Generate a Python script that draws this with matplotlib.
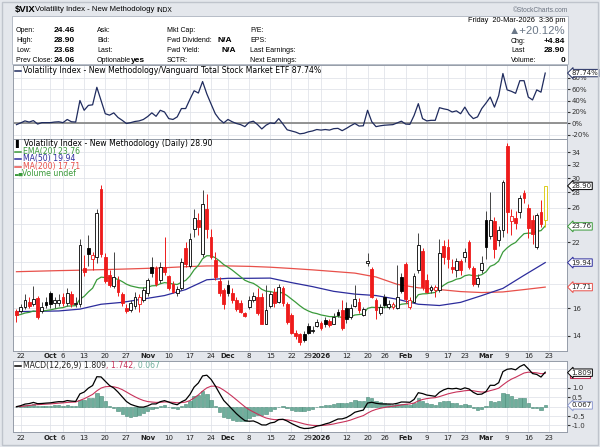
import matplotlib
matplotlib.use("Agg")
import matplotlib.pyplot as plt
import matplotlib.transforms as mtrans
from matplotlib.lines import Line2D
from matplotlib.patches import Rectangle
import numpy as np
import pandas as pd

# ---------------------------------------------------------------------------
# Data
# ---------------------------------------------------------------------------
holidays = ["2025-11-27", "2025-12-25", "2026-01-01", "2026-01-19", "2026-02-16"]
dates = pd.bdate_range("2025-09-19", "2026-03-20")
dates = dates[~dates.isin(pd.to_datetime(holidays))]

opens = [15.75, 15.80, 16.10, 16.50, 16.30, 16.80, 15.80, 16.50, 17.20, 16.40,
         16.40, 16.90, 16.40, 17.10, 16.30, 16.30, 19.40, 21.40, 20.30, 20.50,
         28.40, 20.50, 18.80, 17.80, 18.30, 17.10, 16.00, 15.85, 16.20, 16.30,
         16.60, 17.20, 19.50, 19.40, 18.30, 19.55, 18.70, 18.00, 17.20, 17.60,
         21.40, 19.60, 23.50, 24.50, 20.80, 25.90, 22.60, 20.20, 18.20, 17.45,
         17.90, 17.25, 16.60, 16.40, 15.60, 16.10, 16.60, 16.90, 16.90, 14.85,
         16.20, 17.30, 16.50, 17.60, 16.30, 15.50, 14.15, 14.10, 14.10, 14.65,
         14.30, 14.70, 14.90, 15.10, 15.00, 14.85, 15.72, 15.85, 16.00, 15.30,
         16.20, 16.50, 15.50, 19.90, 19.30, 16.60, 15.65, 16.90, 16.05, 16.10,
         16.00, 18.60, 19.80, 16.10, 16.50, 19.25, 21.10, 18.30, 17.45, 17.50,
         17.50, 21.60, 21.50, 19.55, 19.25, 20.10, 20.50, 22.00, 19.40, 18.00,
         19.20, 24.50, 22.70, 24.40, 22.20, 23.40, 35.10, 24.40, 24.80, 25.50,
         27.90, 26.00, 24.50, 21.50, 25.50, 24.46]
highs = [15.90, 16.30, 17.10, 16.90, 17.80, 17.00, 16.50, 16.90, 17.40, 16.90,
         17.10, 17.20, 17.60, 17.40, 16.90, 22.40, 20.70, 22.80, 21.00, 25.80,
         29.00, 20.90, 19.20, 21.00, 18.70, 17.30, 16.30, 16.60, 17.30, 17.10,
         17.70, 18.50, 20.50, 19.60, 20.00, 22.60, 18.80, 18.20, 17.80, 20.40,
         22.00, 23.00, 25.80, 25.30, 28.30, 27.80, 23.50, 21.00, 18.60, 17.60,
         18.30, 17.60, 16.90, 16.60, 15.70, 17.00, 17.30, 17.60, 17.20, 17.90,
         17.40, 17.60, 18.00, 17.80, 16.50, 15.60, 14.40, 14.20, 14.30, 14.90,
         14.70, 15.20, 15.00, 15.30, 15.20, 15.60, 15.90, 16.60, 16.50, 16.30,
         17.90, 16.80, 16.10, 20.85, 19.50, 16.80, 16.30, 17.10, 16.60, 16.50,
         19.70, 19.00, 20.00, 16.90, 19.00, 23.00, 21.40, 18.90, 17.90, 17.90,
         22.40, 22.20, 22.30, 20.30, 20.40, 20.30, 21.40, 22.20, 19.60, 18.90,
         20.60, 25.60, 28.00, 24.90, 23.80, 29.80, 35.50, 25.80, 25.60, 27.60,
         28.30, 26.50, 25.10, 25.30, 27.00, 28.90]
lows = [14.95, 15.60, 15.90, 16.00, 16.20, 15.20, 15.60, 16.00, 16.00, 16.00,
        16.20, 16.20, 16.20, 16.10, 16.10, 16.10, 18.70, 19.60, 19.20, 19.90,
        20.50, 18.10, 17.70, 17.60, 17.00, 16.20, 15.60, 15.70, 15.90, 15.70,
        16.50, 17.00, 18.60, 17.80, 18.10, 18.80, 17.50, 17.20, 17.00, 17.50,
        19.50, 19.40, 22.60, 22.80, 20.50, 22.50, 20.30, 18.30, 17.00, 15.90,
        17.00, 16.40, 15.80, 15.60, 15.30, 15.90, 16.50, 15.50, 14.80, 14.80,
        16.00, 16.10, 16.40, 16.20, 14.80, 14.10, 13.80, 13.40, 13.60, 14.10,
        14.20, 14.60, 14.40, 14.60, 14.60, 14.80, 15.30, 14.40, 14.90, 15.20,
        16.10, 15.60, 15.40, 19.60, 16.80, 15.20, 15.50, 16.00, 15.90, 15.90,
        15.90, 17.20, 16.40, 15.95, 16.40, 19.00, 17.50, 17.20, 17.20, 16.90,
        17.30, 19.80, 19.40, 19.00, 18.60, 18.80, 20.00, 19.30, 17.80, 17.70,
        19.00, 20.30, 22.40, 20.40, 21.60, 22.60, 23.00, 22.80, 23.50, 24.80,
        26.60, 22.50, 21.80, 21.30, 23.70, 23.68]
closes = [15.45, 16.10, 16.64, 16.18, 16.74, 15.29, 16.12, 16.28, 16.29, 16.63,
          16.65, 16.37, 17.24, 16.30, 16.43, 21.66, 19.03, 20.81, 20.64, 25.31,
          20.78, 18.23, 17.87, 18.60, 17.30, 16.37, 15.79, 16.42, 16.92, 16.91,
          17.44, 18.30, 19.00, 18.01, 19.50, 19.08, 17.60, 17.28, 17.51, 20.00,
          19.83, 22.38, 24.69, 23.66, 26.42, 23.43, 20.52, 18.56, 17.19, 16.35,
          17.24, 16.60, 15.95, 15.70, 15.40, 16.60, 17.00, 15.60, 14.85, 15.85,
          17.10, 16.40, 17.70, 16.40, 14.95, 14.16, 13.95, 13.55, 13.70, 14.20,
          14.40, 14.95, 14.50, 14.85, 14.75, 15.35, 15.47, 14.50, 15.20, 16.00,
          16.70, 15.85, 15.90, 20.05, 16.90, 15.85, 16.05, 16.25, 16.35, 16.30,
          16.90, 17.40, 16.70, 16.60, 18.70, 21.70, 17.75, 17.30, 17.75, 17.70,
          20.85, 20.45, 20.30, 19.35, 20.10, 19.20, 20.95, 19.55, 18.00, 18.50,
          19.90, 21.50, 24.50, 21.30, 23.30, 29.50, 25.50, 24.95, 24.20, 27.25,
          27.20, 23.60, 22.95, 25.10, 24.06, 28.90]
prev_close_first = 15.70

# Moving averages read every 5th session (first session onwards)
ma50 = [15.73, 15.75, 15.78, 15.92, 16.30, 16.45, 16.72, 17.00, 17.50, 18.35,
        18.48, 18.48, 18.50, 18.10, 17.75, 17.35, 17.12, 17.00, 16.70, 16.30,
        16.20, 16.45, 17.00, 17.60, 18.75, 19.94]
ma200 = [19.08, 19.13, 19.18, 19.22, 19.27, 19.32, 19.38, 19.45, 19.55, 19.62,
         19.62, 19.58, 19.50, 19.38, 19.25, 19.10, 18.95, 18.60, 17.95, 17.65,
         17.50, 17.33, 17.25, 17.30, 17.50, 17.71]

# $VIX / VTI relative performance (%)
ratio_pct = [-2, 1, 4.5, 2.5, 5, -1, 1.5, 1.5, 1.5, 2.5,
             3, 1.5, 7, 3, 2.5, 40, 23, 31.5, 32.5, 63,
             40, 17, 14.5, 18.5, 10.5, 5.5, 0, 1.5, 3.5, 4.5,
             7, 12, 18.5, 12.5, 23, 20, 8.5, 7, 11.5, 26,
             26, 42, 57, 53, 73, 51.5, 34, 17, 7, 1,
             7, 3, 0, -2, -5.5, 2, 4, -2, -9.5, -3,
             1, 0, 8.5, -1, -11, -13, -15, -18, -17, -14.5,
             -13, -10.5, -11.5, -10.5, -11.5, -9, -8.5, -12.5, -8.5, -4,
             0, -4.5, -4, 23, 3, -5.5, -4, -3, -2.5, -2,
             1, 4, -1, -1.5, 14, 34.5, 8.5, 4.5, 5.5, 5.5,
             27.5, 25.5, 24, 20, 22, 17, 28.5, 16, 8.5, 11.5,
             26, 35.5, 46, 28.5, 48.5, 87, 58.5, 56, 52.5, 74.5,
             74.5, 46, 41, 58.5, 54.5, 87.74]

tick_dates = ["2025-09-22", "2025-10-01", "2025-10-06", "2025-10-13", "2025-10-20",
              "2025-10-27", "2025-11-03", "2025-11-10", "2025-11-17", "2025-11-24",
              "2025-12-01", "2025-12-08", "2025-12-15", "2025-12-22", "2025-12-29",
              "2026-01-02", "2026-01-12", "2026-01-20", "2026-01-26", "2026-02-02",
              "2026-02-09", "2026-02-17", "2026-02-23", "2026-03-02", "2026-03-09",
              "2026-03-16", "2026-03-23"]
tick_labels = ["22", "Oct", "6", "13", "20", "27", "Nov", "10", "17", "24", "Dec",
               "8", "15", "22", "29", "2026", "12", "20", "26", "Feb", "9", "17",
               "23", "Mar", "9", "16", "23"]
month_labels = {"Oct", "Nov", "Dec", "2026", "Feb", "Mar"}

# ---------------------------------------------------------------------------
# Style
# ---------------------------------------------------------------------------
BG = "#e4e7ec"
GRID = "#dfe2e8"
SPINE = "#959ca8"
RED = "#ee1b1b"
GREEN = "#3a9a3a"
NAVY = "#2c2c9c"
MA200C = "#e8504a"
TEAL = "#6fae9c"
CRIMSON = "#c8325a"
FS = 5.6      # legend text
TFS = 5.0     # tick labels

plt.rcParams["font.family"] = ["DejaVu Sans"]

W, H = 600, 447
fig = plt.figure(figsize=(6, 4.47), dpi=100, facecolor=BG)


def px_axes(x0, y0, x1, y1):
    return fig.add_axes([x0 / W, 1 - y1 / H, (x1 - x0) / W, (y1 - y0) / H])


def ftext(x, y, s, **kw):
    kw.setdefault("va", "center")
    kw.setdefault("fontsize", FS)
    return fig.text(x / W, 1 - y / H, s, **kw)


def fline(x0, x1, y, color, lw=1.0):
    fig.add_artist(Line2D([x0 / W, x1 / W], [1 - y / H] * 2, color=color,
                          lw=lw, transform=fig.transFigure))


x = np.arange(len(dates))
XMIN, XMAX = -0.82, 130.15

tick_x = []
for d in pd.to_datetime(tick_dates):
    if d in dates:
        tick_x.append(dates.get_loc(d))
    else:
        tick_x.append(len(dates) + np.busday_count(dates[-1].date(), d.date()) - 1)

# ---------------------------------------------------------------------------
# Header
# ---------------------------------------------------------------------------
fig.add_artist(Rectangle((2 / W, 2 / H), 596 / W, 443 / H, transform=fig.transFigure,
                         fc="none", ec="#bfc4cc", lw=1.0))
fig.add_artist(Rectangle((12 / W, 1 - 64 / H), 556 / W, 48 / H, transform=fig.transFigure,
                         fc="white", ec="#b7bdc7", lw=0.7))
HF = ["Liberation Sans", "DejaVu Sans"]
ftext(15, 9.5, "$VIX", fontsize=6.8, fontweight="bold", family=HF)
ftext(35, 9.8, "Volatility Index - New Methodology", fontsize=5.6, family=HF)
ftext(156, 10, "INDX", fontsize=4.8, family=HF)
ftext(568, 10, "\u00a9StockCharts.com", fontsize=4.8, family=HF, color="#6b7380", ha="right")

rows_y = [30, 40.5, 51, 61]
LFS = 5.0
for y, lab, val in zip(rows_y, ["Open:", "High:", "Low:", "Prev Close:"],
                       ["24.46", "28.90", "23.68", "24.06"]):
    ftext(16, y, lab, fontsize=LFS, family=HF)
    ftext(54, y, val, fontsize=6.0, family=HF, fontweight="bold")
for y, lab in zip(rows_y, ["Ask:", "Bid:", "Last:", "Optionable"]):
    ftext(97, y, lab, fontsize=LFS, family=HF)
ftext(131, rows_y[3], "yes", fontsize=6.0, family=HF, fontweight="bold")
for y, lab in zip(rows_y, ["Mkt Cap:", "Fwd Dividend:", "Fwd Yield:", "SCTR:"]):
    ftext(167, y, lab, fontsize=LFS, family=HF)
ftext(218, rows_y[1], "N/A", fontsize=6.0, family=HF, fontweight="bold")
ftext(222, rows_y[2], "N/A", fontsize=6.0, family=HF, fontweight="bold")
for y, lab in zip(rows_y, ["P/E:", "EPS:", "Last Earnings:", "Next Earnings:"]):
    ftext(250, y, lab, fontsize=LFS, family=HF)

ftext(565, 20.5, "Friday  20-Mar-2026  3:36 pm", fontsize=5.3, family=HF, ha="right")
ftext(565, 31.5, "\u25b2+20.12%", fontsize=8.2, family=HF, ha="right", color="#6b7888")
for y, lab, val in zip([41.5, 51, 61], ["Chg:", "Last", "Volume:"], ["+4.84", "28.90", "0"]):
    ftext(511, y, lab, fontsize=LFS, family=HF)
    ftext(565, y, val, fontsize=6.0, family=HF, fontweight="bold", ha="right")

# ---------------------------------------------------------------------------
# Panels
# ---------------------------------------------------------------------------
ax_top = px_axes(13, 65, 567, 139)
ax = px_axes(13, 139, 567, 351)
ax_m = px_axes(13, 361, 567, 432)

for a in (ax_top, ax, ax_m):
    a.set_facecolor("white")
    a.set_xlim(XMIN, XMAX)
    for s in a.spines.values():
        s.set_color(SPINE)
        s.set_linewidth(0.7)
    a.yaxis.tick_right()
    a.tick_params(axis="y", which="both", length=2, pad=1.5, labelsize=TFS,
                  colors="#333333")
    a.tick_params(axis="x", length=0, pad=1.8, labelsize=TFS, colors="#222222")
    a.set_xticks(tick_x)
    a.grid(True, color=GRID, lw=0.55)
    a.set_axisbelow(True)

ax_top.set_xticklabels([])
for a in (ax, ax_m):
    a.set_xticklabels(tick_labels)
    for t in a.get_xticklabels():
        if t.get_text() in month_labels:
            t.set_fontweight("bold")


def tag(a, y, s, ec, tc="#222222", z=6):
    tr = mtrans.blended_transform_factory(a.transAxes, a.transData)
    a.text(1.008, y, s, transform=tr, ha="left", va="center", fontsize=TFS, color=tc,
           zorder=z, clip_on=False,
           bbox=dict(boxstyle="larrow,pad=0.1", fc="white", ec=ec, lw=0.7))


renderer = fig.canvas.get_renderer()


def chain(x0, y, parts):
    """Draw coloured text pieces one after another on a line (pixels)."""
    xp = x0
    for s, col in parts:
        t = ftext(xp, y, s, color=col)
        bb = t.get_window_extent(renderer)
        xp += bb.width


# --- Top panel: relative performance -------------------------------------
ax_top.plot(x, ratio_pct, color="#1f2b5e", lw=0.9, zorder=3)
ax_top.axhline(0, color="#8a8a8a", lw=1.3, zorder=2)
ax_top.set_ylim(-27, 101.8)
ax_top.set_yticks([-20, 0, 20, 40, 60, 80], ["-20%", "0%", "20%", "40%", "60%", "80%"])
tag(ax_top, ratio_pct[-1], "87.74%", "#1f2b5e")
fline(15, 21, 70.5, "#1f2b5e", 1.1)
ftext(23, 70.5, "Volatility Index - New Methodology/Vanguard Total Stock Market ETF 87.74%")

# --- Main panel: candles + moving averages --------------------------------
o = np.array(opens)
h = np.array(highs)
lo = np.array(lows)
c = np.array(closes)
pc = np.r_[prev_close_first, c[:-1]]
hollow = c > o
down = c < pc
edge = np.where(down, RED, "black").astype(object)
face = np.where(hollow, "white", edge).astype(object)
wick = np.where(down, RED, "#444444").astype(object)
edge[-1] = "#d8c600"
wick[-1] = "#d8c600"

ema20 = pd.Series(c).ewm(span=20, adjust=False).mean()
ma_x = x[::5]

ax.set_yscale("log")
ax.plot(ma_x, ma200, color=MA200C, lw=0.9, zorder=2.6)
ax.plot(ma_x, ma50, color=NAVY, lw=0.9, zorder=2.6)
ax.plot(x, ema20, color=GREEN, lw=0.9, zorder=2.7)
ax.vlines(x, lo, h, colors=list(wick), lw=0.7, zorder=3)
ax.bar(x, np.maximum(np.abs(c - o), 0.03), bottom=np.minimum(o, c), width=0.66,
       color=list(face), edgecolor=list(edge), linewidth=0.6, zorder=4)

ax.set_ylim(13.0, 36.26)
yt = [14, 16, 22, 26, 28, 30, 32, 34]
ax.set_yticks(yt, [str(v) for v in yt])
ax.yaxis.set_minor_locator(matplotlib.ticker.NullLocator())
for v in [18, 20, 24]:
    ax.axhline(v, color=GRID, lw=0.55, zorder=0.5)

tag(ax, ma200[-1], "17.71", MA200C)
tag(ax, ma50[-1], "19.94", NAVY)
tag(ax, 23.76, "23.76", GREEN)
tag(ax, c[-1], "28.90", "black")

ftext(15.5, 144, "\u258c", fontsize=5.5, color="black")
ftext(24, 144, "Volatility Index - New Methodology (Daily) 28.90")
fline(15, 21, 151.5, GREEN, 1.1)
ftext(23, 151.5, "EMA(20) 23.76", color=GREEN)
fline(15, 21, 159, NAVY, 1.1)
ftext(23, 159, "MA(50) 19.94", color=NAVY)
fline(15, 21, 166.5, MA200C, 1.1)
ftext(23, 166.5, "MA(200) 17.71", color=MA200C)
ftext(15, 174, "\u2583\u2585", fontsize=3.5, color=GREEN)
ftext(22, 174, "Volume undef", color=GREEN)

# --- MACD panel ------------------------------------------------------------
ema12 = pd.Series(c).ewm(span=12, adjust=False).mean()
ema26 = pd.Series(c).ewm(span=26, adjust=False).mean()
macd = ema12 - ema26
signal = macd.ewm(span=9, adjust=False).mean()
hist = macd - signal

ax_m.bar(x, hist, width=0.8, color=TEAL, edgecolor="#4a8a78", linewidth=0.4, zorder=2)
ax_m.plot(x, signal, color=CRIMSON, lw=0.8, zorder=3)
ax_m.plot(x, macd, color="black", lw=0.9, zorder=4)
ax_m.set_ylim(-1.35, 2.43)
ax_m.set_yticks([-1.0, -0.5, 0.5, 1.0], ["-1.0", "-0.5", "0.5", "1.0"])
for v in [0.0, 1.5, 2.0]:
    ax_m.axhline(v, color=GRID, lw=0.55, zorder=0.5)

# signal-value marker peeking out below the MACD tag
trm = mtrans.blended_transform_factory(ax_m.transAxes, ax_m.transData)
ax_m.add_patch(Rectangle((1.006, 1.742 - 0.2), 0.036, 0.28, transform=trm,
                         fc="white", ec=CRIMSON, lw=0.8, clip_on=False, zorder=5))
tag(ax_m, 1.809, "1.809", "black", z=7)
tag(ax_m, 0.067, "0.067", "#8e9ad0")

fline(15, 21, 365.5, "black", 1.1)
chain(23, 365.5, [("MACD(12,26,9) 1.809", "#222222"), (", 1.742", CRIMSON),
                  (", 0.067", TEAL)])

fig.savefig("out.png", dpi=100, facecolor=BG)
